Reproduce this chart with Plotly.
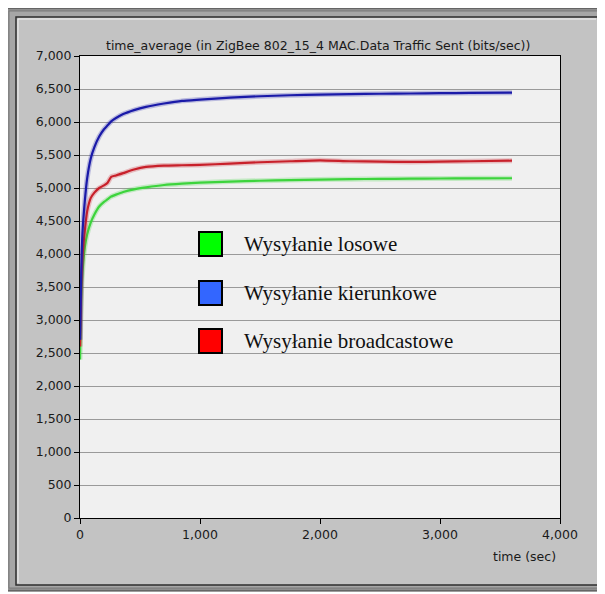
import plotly.graph_objects as go

# the page body has an 8px margin, so figure coordinates = page coordinates - 8
OFF = 8
W, H = 597, 586
ML, MR, MT, MB = 72, 45, 48, 76

time_sec = [0, 10, 20, 40, 60, 90, 120, 160, 200, 230, 260, 300, 360, 450, 550, 700,
            850, 1000, 1250, 1500, 1750, 2000, 2250, 2500, 2750, 3000, 3250, 3600]

losowe = [2400, 3300, 3700, 4100, 4300, 4480, 4600, 4720, 4790, 4830, 4870, 4900, 4940,
          4980, 5010, 5045, 5065, 5080, 5098, 5110, 5120, 5128, 5134, 5138, 5141, 5144,
          5146, 5148]

kierunkowe = [2700, 3700, 4300, 4800, 5150, 5450, 5620, 5780, 5890, 5950, 6010, 6060,
              6120, 6180, 6230, 6280, 6320, 6340, 6370, 6390, 6405, 6415, 6422, 6428,
              6432, 6436, 6440, 6445]

broadcastowe = [2600, 3500, 3950, 4350, 4650, 4850, 4930, 5000, 5040, 5080, 5170, 5190,
                5225, 5280, 5320, 5340, 5345, 5350, 5370, 5390, 5405, 5420, 5405, 5400,
                5395, 5400, 5405, 5414]

y_ticks = list(range(0, 7001, 500))
x_ticks = [0, 1000, 2000, 3000, 4000]

legend_labels = ["Wysyłanie losowe", "Wysyłanie kierunkowe", "Wysyłanie broadcastowe"]
legend_colors = ["#00ff00", "#3366ff", "#ff0000"]

TITLE = "time_average (in ZigBee 802_15_4 MAC.Data Traffic Sent (bits/sec))"
AXFONT = dict(family="DejaVu Sans", size=12.5, color="#1a1a1a")


def px(x):
    return (x - OFF - ML) / (W - ML - MR)


def py(y):
    return (H - MB - (y - OFF)) / (H - MT - MB)


fig = go.Figure()
series = [
    (losowe, "#3cd43c", "rgba(60,212,60,0.25)"),
    (broadcastowe, "#c8202a", "rgba(200,32,42,0.25)"),
    (kierunkowe, "#1a1aa8", "rgba(26,26,168,0.25)"),
]
for vals, col, halo in series:
    fig.add_trace(go.Scatter(x=time_sec, y=vals, mode="lines",
                             line=dict(color=halo, width=5, shape="spline", smoothing=0.5),
                             hoverinfo="skip", showlegend=False))
    fig.add_trace(go.Scatter(x=time_sec, y=vals, mode="lines",
                             line=dict(color=col, width=2.2, shape="spline", smoothing=0.5),
                             showlegend=False))

shapes = []
# window frame
shapes.append(dict(type="rect", xref="paper", yref="paper", layer="below",
                   x0=px(6), x1=px(603), y0=py(591), y1=py(8),
                   fillcolor="#8e8e8e", line=dict(color="#3c3c3c", width=1)))
shapes.append(dict(type="rect", xref="paper", yref="paper", layer="below",
                   x0=px(9), x1=px(600), y0=py(588), y1=py(11),
                   fillcolor="#a6a6a6", line=dict(color="#7a7a7a", width=1)))
shapes.append(dict(type="rect", xref="paper", yref="paper", layer="below",
                   x0=px(16), x1=px(598), y0=py(585), y1=py(17),
                   fillcolor="#c3c3c3", line=dict(color="#2e2e2e", width=1.5)))
shapes.append(dict(type="line", xref="paper", yref="paper", layer="below",
                   x0=px(18), x1=px(596), y0=py(19), y1=py(19),
                   line=dict(color="#f4f4f4", width=1)))
shapes.append(dict(type="line", xref="paper", yref="paper", layer="below",
                   x0=px(18), x1=px(18), y0=py(19), y1=py(583),
                   line=dict(color="#f4f4f4", width=1)))
# plot area background (drawn above the frame fills)
shapes.append(dict(type="rect", xref="paper", yref="paper", layer="below",
                   x0=0, x1=1, y0=0, y1=1,
                   fillcolor="#f0f0f0", line=dict(width=0)))

annotations = []
ly = [244, 293, 341]
for lab, col, yc in zip(legend_labels, legend_colors, ly):
    shapes.append(dict(type="rect", xref="paper", yref="paper",
                       x0=px(199), x1=px(222), y0=py(yc + 12), y1=py(yc - 12),
                       fillcolor=col, line=dict(color="#000000", width=2)))
    annotations.append(dict(xref="paper", yref="paper", x=px(242), y=py(yc),
                            xanchor="left", yanchor="middle", showarrow=False,
                            text=lab, font=dict(family="Liberation Serif", size=21,
                                                color="#111111")))

annotations.append(dict(xref="paper", yref="paper", x=px(318), y=py(45),
                        xanchor="center", yanchor="middle", showarrow=False,
                        text=TITLE, font=AXFONT))
annotations.append(dict(xref="paper", yref="paper", x=px(524), y=py(556),
                        xanchor="center", yanchor="middle", showarrow=False,
                        text="time (sec)", font=AXFONT))

fig.update_layout(
    width=W, height=H,
    margin=dict(l=ML, r=MR, t=MT, b=MB, pad=0),
    paper_bgcolor="#ffffff",
    plot_bgcolor="#f0f0f0",
    shapes=shapes,
    annotations=annotations,
    showlegend=False,
)
fig.update_xaxes(range=[0, 4000], tickvals=x_ticks,
                 ticktext=[f"{v:,}" for v in x_ticks],
                 showgrid=False, zeroline=False,
                 showline=True, linecolor="#000000", linewidth=1, mirror=True,
                 ticks="outside", ticklen=5, tickcolor="#000000",
                 tickfont=AXFONT)
fig.update_yaxes(range=[0, 7000], tickvals=y_ticks,
                 ticktext=[f"{v:,}" for v in y_ticks],
                 showgrid=True, gridcolor="#9a9a9a", gridwidth=1, zeroline=False,
                 showline=True, linecolor="#000000", linewidth=1, mirror=True,
                 ticks="outside", ticklen=5, tickcolor="#000000",
                 tickfont=AXFONT)

fig.write_html("out.html")
